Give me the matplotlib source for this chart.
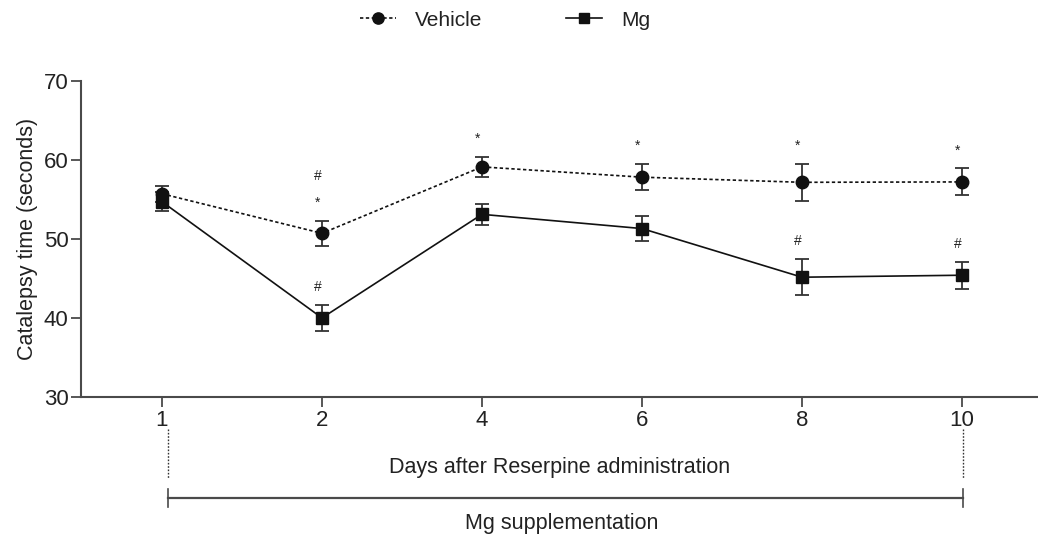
import numpy as np
import matplotlib
matplotlib.use("Agg")
import matplotlib.pyplot as plt
from matplotlib.transforms import blended_transform_factory

# Datos (media +- SEM)
dias = ["1", "2", "4", "6", "8", "10"]
vehiculo = [55.7, 50.7, 59.1, 57.8, 57.15, 57.2]
vehiculo_sem = [1.0, 1.6, 1.3, 1.65, 2.35, 1.7]
mg = [54.7, 40.0, 53.1, 51.3, 45.15, 45.4]
mg_sem = [1.2, 1.6, 1.3, 1.55, 2.25, 1.7]

# Marcas de significancia
estrella_vehiculo = [False, True, True, True, True, True]
numeral_vehiculo = [False, True, False, False, False, False]
numeral_mg = [False, True, False, False, True, True]

plt.rcParams["font.family"] = ["Liberation Sans", "DejaVu Sans"]
texto = "#222222"
eje = "#4a4a4a"
negro = "#111111"

fig = plt.figure(figsize=(10.38, 5.38), dpi=100)
ax = fig.add_axes([81 / 1038, 1 - 397 / 538, 957 / 1038, (397 - 80.7) / 538])

x = np.arange(len(dias))

eb_v = ax.errorbar(x, vehiculo, yerr=vehiculo_sem, color=negro, ls=(0, (2, 1.5)), lw=1.2,
                   marker="o", ms=9, capsize=5, capthick=1.3, elinewidth=1.3,
                   ecolor="#333333", clip_on=False, zorder=3)
eb_m = ax.errorbar(x, mg, yerr=mg_sem, color=negro, ls="-", lw=1.2,
                   marker="s", ms=8.5, capsize=5, capthick=1.3, elinewidth=1.3,
                   ecolor="#333333", clip_on=False, zorder=3)

# Asteriscos y numerales sobre las barras de error
for i in range(len(dias)):
    tope_v = vehiculo[i] + vehiculo_sem[i]
    tope_m = mg[i] + mg_sem[i]
    if estrella_vehiculo[i]:
        ax.annotate("*", (x[i], tope_v), xytext=(-3, 8), textcoords="offset points",
                    ha="center", va="bottom", fontsize=10, color=texto)
    if numeral_vehiculo[i]:
        ax.annotate("#", (x[i], tope_v), xytext=(-3, 27), textcoords="offset points",
                    ha="center", va="bottom", fontsize=10, color=texto)
    if numeral_mg[i]:
        ax.annotate("#", (x[i], tope_m), xytext=(-3, 8), textcoords="offset points",
                    ha="center", va="bottom", fontsize=10, color=texto)

ax.set_xlim(-0.506, 5.475)
ax.set_ylim(30, 70)
ax.set_yticks([30, 40, 50, 60, 70])
ax.set_xticks(x)
ax.set_xticklabels(dias)

for lado in ["top", "right"]:
    ax.spines[lado].set_visible(False)
for lado in ["left", "bottom"]:
    ax.spines[lado].set_color(eje)
    ax.spines[lado].set_linewidth(1.5)
ax.tick_params(axis="both", colors=eje, width=1.3, length=7, labelsize=16,
               labelcolor=texto, pad=2)

ax.set_ylabel("Catalepsy time (seconds)", fontsize=15.5, color=texto, labelpad=4)
ax.set_xlabel("Days after Reserpine administration", fontsize=15.5, color=texto,
              labelpad=19)

# Lineas punteadas y corchete de la suplementacion con Mg
tr = blended_transform_factory(ax.transData, fig.transFigure)
for xi in [0.0375, 5.006]:
    ax.plot([xi, xi], [1 - 429 / 538, 1 - 479 / 538], transform=tr, ls=(0, (1.2, 1.2)),
            lw=1.0, color="#333333", clip_on=False)
    ax.plot([xi, xi], [1 - 489 / 538, 1 - 507 / 538], transform=tr, lw=1.2,
            color=eje, clip_on=False)
ax.plot([0.0375, 5.006], [1 - 498 / 538, 1 - 498 / 538], transform=tr, lw=1.6,
        color=eje, clip_on=False)
ax.text(2.5, 1 - 524 / 538, "Mg supplementation", transform=tr, ha="center",
        va="center", fontsize=15.5, color=texto)

# Leyenda sin barras de error
ax.legend([eb_v[0], eb_m[0]], ["Vehicle", "Mg"], loc="center",
          bbox_to_anchor=(505 / 1038, 1 - 20 / 538),
          bbox_transform=fig.transFigure, ncol=2, frameon=False, fontsize=15,
          handlelength=1.75, handletextpad=0.9, columnspacing=4.0,
          labelcolor=texto, markerscale=0.9)

fig.savefig("out.png", dpi=100)
